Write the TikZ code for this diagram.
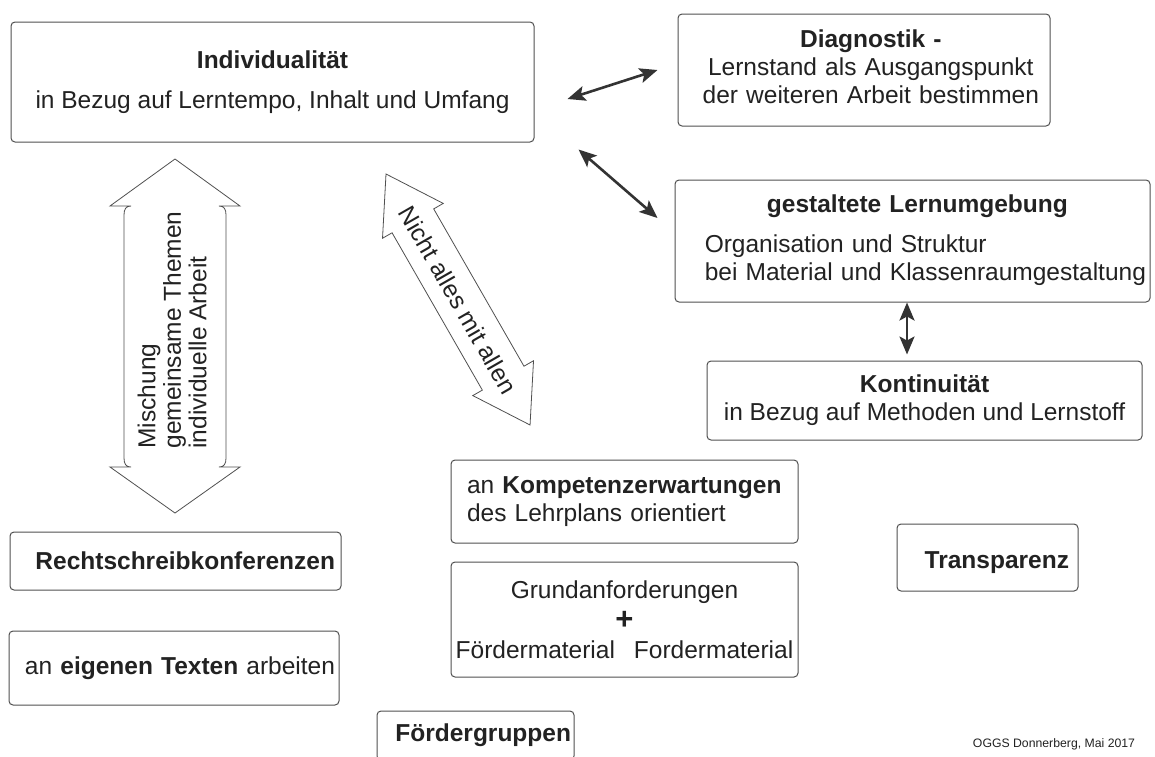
\documentclass[tikz,border=0pt]{standalone}
\usepackage{fontspec}
\setmainfont{Liberation Sans}
\usetikzlibrary{arrows.meta,calc}

\definecolor{inkgray}{HTML}{222222}
\definecolor{framegray}{HTML}{505050}
\definecolor{pfeilgray}{HTML}{333333}

\tikzset{
  kasten/.style={draw=framegray, line width=1pt, rounded corners=4pt, inner sep=2pt,
    text=inkgray, font=\fontsize{24.5}{28}\selectfont},
  pfeil/.style={line width=2.6pt, draw=pfeilgray,
    {Stealth[length=18pt,width=15pt,inset=4pt]}-{Stealth[length=18pt,width=15pt,inset=4pt]}},
  blockpfeil/.style={draw=framegray, line width=0.8pt},
  schrift/.style={text=inkgray, font=\fontsize{24.5}{25.5}\selectfont}
}

\begin{document}
\begin{tikzpicture}[x=1pt,y=-1pt]
\useasboundingbox (0,0) rectangle (1155,756);
\clip (0,0) rectangle (1155,756);
\fill[white] (0,0) rectangle (1155,756);

% Kaesten
\node[kasten, minimum width=523pt, minimum height=120pt, align=center] (indiv) at (272.5,82)
  {\textbf{Individualität}\\[12pt] in Bezug auf Lerntempo, Inhalt und Umfang};
\node[kasten, text width=350pt, inner xsep=11pt, minimum height=112pt, align=right] (diag) at (864,70)
  {\begin{tabular}{@{}c@{}}\textbf{Diagnostik -}\\ Lernstand als Ausgangspunkt\\ der weiteren Arbeit bestimmen\end{tabular}};
\node[kasten, text width=467pt, inner xsep=4pt, minimum height=122pt, align=right] (gest) at (912.5,241)
  {\begin{tabular}{@{}l@{}}\multicolumn{1}{@{}c@{}}{\hspace*{-16pt}\textbf{gestaltete Lernumgebung}}\\[12pt]
   Organisation und Struktur\\ bei Material und Klassenraumgestaltung\end{tabular}};
\node[kasten, minimum width=435pt, minimum height=79pt, align=center] (kont) at (924.5,400.5)
  {\textbf{Kontinuität}\\ in Bezug auf Methoden und Lernstoff};
\node[kasten, text width=315pt, inner xsep=16pt, minimum height=83pt, align=left] (komp) at (624.5,501.5)
  {an \textbf{Kompetenzerwartungen}\\ des Lehrplans orientiert};
\node[kasten, minimum width=347pt, minimum height=115pt, align=center] (grund) at (624.5,619.5)
  {Grundanforderungen\\[3pt] {\fontsize{31}{28}\selectfont\textbf{+}}\\[1pt] Fördermaterial\hspace{19pt}Fordermaterial};
\node[kasten, text width=319pt, inner xsep=6pt, minimum height=58pt, align=right] (recht) at (175.5,561)
  {\textbf{Rechtschreibkonferenzen}};
\node[kasten, text width=322pt, inner xsep=4pt, minimum height=74pt, align=right] (eigen) at (174,668)
  {an \textbf{eigenen Texten} arbeiten};
\node[kasten, text width=191pt, inner xsep=3pt, minimum height=49pt, align=right] (foerd) at (475.5,735.5)
  {\textbf{Fördergruppen}};
\node[kasten, text width=163pt, inner xsep=9pt, minimum height=67pt, align=right,
  text depth=1pt, text height=22pt] (transp) at (987.5,557.5)
  {\textbf{Transparenz}};
\node[text=inkgray, font=\fontsize{12.25}{14}\selectfont] (quelle) at (1054,744) {OGGS Donnerberg, Mai 2017};

% Verbindungen
\draw[pfeil] ([shift={(33,17)}]indiv.east) -- ([shift={(-20,0)}]diag.west);
\draw[pfeil] ([shift={(44,7)}]indiv.south east) -- ([shift={(-17,-23)}]gest.west);
\draw[pfeil] ($(gest.south)+(-5.5,0)$) -- ($(gest.south |- kont.north)+(-5.5,-6)$);

% Blockpfeil senkrecht
\draw[blockpfeil] (175,159) -- (240,206) -- (219,206) .. controls (224,206) and (226,209) .. (226,215)
  -- (226,458) .. controls (226,464) and (224,467) .. (219,467) -- (240,467) -- (175,513)
  -- (110,467) -- (131,467) .. controls (126,467) and (124,464) .. (124,458)
  -- (124,215) .. controls (124,209) and (126,206) .. (131,206) -- (110,206) -- cycle;
\node[schrift, rotate=90, align=left] (mischung) at (172,330)
  {Mischung\\ gemeinsame Themen\\ individuelle Arbeit};

% Blockpfeil schraeg
\begin{scope}[shift={(386,174)}, rotate=-60.15]
\draw[blockpfeil] (0,0) -- (54,35) -- (54,24) -- (235.4,24) -- (235.4,35) -- (289.4,0)
  -- (235.4,-35) -- (235.4,-24) -- (54,-24) -- (54,-35) -- cycle;
\end{scope}
\node[schrift, rotate=-60.15] (nichtalle) at (458,300) {Nicht alles mit allen};
\end{tikzpicture}
\end{document}
